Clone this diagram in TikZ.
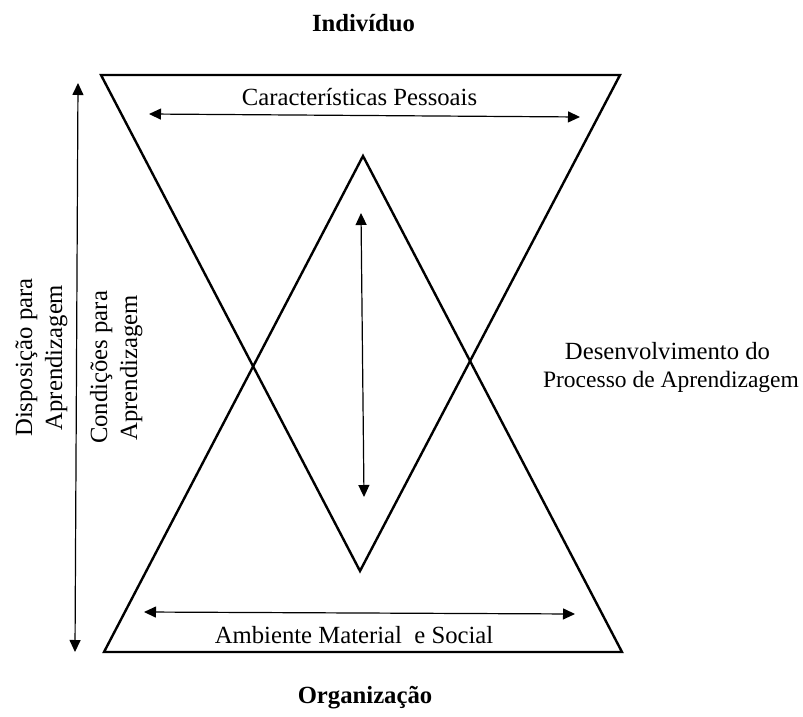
\documentclass[tikz,border=0pt]{standalone}
\usepackage{fontspec}
\setmainfont{Liberation Serif}
\usetikzlibrary{arrows.meta}
\begin{document}
\begin{tikzpicture}[x=1pt,y=-1pt,
  shapeline/.style={line width=2.4pt,line join=miter},
  dblarrow/.style={line width=1.2pt,{Triangle[length=12pt,width=11pt]}-{Triangle[length=12pt,width=11pt]}},
  lbl/.style={inner sep=0pt,anchor=base,font=\fontsize{24.7}{28}\selectfont},
  blbl/.style={lbl,font=\fontsize{24.7}{28}\selectfont\bfseries},
  rlbl/.style={lbl,rotate=90}]
\useasboundingbox (0,0) rectangle (803,717);
% corners
\coordinate (TL) at (101,75);
\coordinate (TR) at (620,75);
\coordinate (BA) at (360,571);
\coordinate (BL) at (104,652);
\coordinate (BR) at (622,652);
\coordinate (TA) at (363,156);
\draw[shapeline] (TL) -- (TR) -- (BA) -- cycle;
\draw[shapeline] (BL) -- (BR) -- (TA) -- cycle;
% arrow ends
\coordinate (v1) at (78,83);
\coordinate (v2) at (75,652);
\coordinate (h1) at (149,114);
\coordinate (h2) at (580,117);
\coordinate (b1) at (144,612);
\coordinate (b2) at (575,614);
\coordinate (i1) at (361,213);
\coordinate (i2) at (364,497);
\draw[dblarrow] (v1) -- (v2);
\draw[dblarrow] (h1) -- (h2);
\draw[dblarrow] (b1) -- (b2);
\draw[dblarrow] (i1) -- (i2);
% labels
\node[blbl] (ind) at (363.5,32) {Indivíduo};
\node[blbl] (org) at (365,703) {Organização};
\node[lbl] (cp) at (359.5,105) {Características Pessoais};
\node[lbl] (ams) at (354,643) {Ambiente Material\hspace{0.5em}e Social};
\node[lbl] (dp1) at (667.5,359) {Desenvolvimento do};
\node[lbl,font=\fontsize{23.5}{28}\selectfont] (dp2) at (671,387) {Processo de Aprendizagem};
\node[rlbl] (dis1) at (32,357.5) {Disposição para};
\node[rlbl] (dis2) at (62,357.5) {Aprendizagem};
\node[rlbl] (con1) at (107,367.5) {Condições para};
\node[rlbl] (con2) at (137,368) {Aprendizagem};
\end{tikzpicture}
\end{document}
